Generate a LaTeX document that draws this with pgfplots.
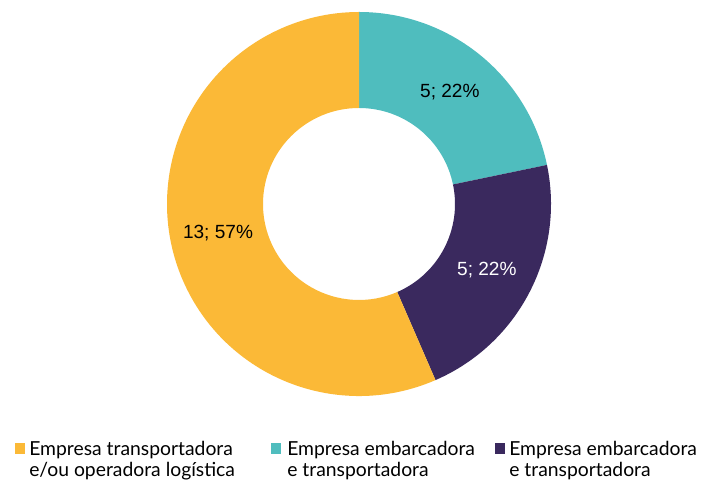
\documentclass[border=0pt]{standalone}
\usepackage{pgfplots}
\usepackage{pgfplotstable}
\pgfplotsset{compat=1.18}
\usepackage{fontspec}
\setmainfont{Lato}
\newfontfamily\arial{Liberation Sans}
\definecolor{tealc}{RGB}{79,189,190}
\definecolor{purplec}{RGB}{58,41,94}
\definecolor{yellowc}{RGB}{251,185,55}
\pgfplotstableread{
name value
teal 5
purple 5
yellow 13
}\piedata
\begin{document}
\begin{tikzpicture}
\pgfplotstablegetelem{0}{value}\of\piedata \edef\va{\pgfplotsretval}
\pgfplotstablegetelem{1}{value}\of\piedata \edef\vb{\pgfplotsretval}
\pgfplotstablegetelem{2}{value}\of\piedata \edef\vc{\pgfplotsretval}
\pgfmathsetmacro\tot{\va+\vb+\vc}
\pgfmathsetmacro\aA{90}
\pgfmathsetmacro\aB{90-360*\va/\tot}
\pgfmathsetmacro\aC{\aB-360*\vb/\tot}
\pgfmathsetmacro\aD{90-360}
\pgfmathsetmacro\mA{(\aA+\aB)/2}
\pgfmathsetmacro\mB{(\aB+\aC)/2}
\pgfmathsetmacro\mC{(\aC+\aD)/2}
\pgfmathtruncatemacro\pA{round(100*\va/\tot)}
\pgfmathtruncatemacro\pB{round(100*\vb/\tot)}
\pgfmathtruncatemacro\pC{round(100*\vc/\tot)}
\begin{axis}[hide axis, scale only axis, width=528pt, height=360.75pt,
  xmin=0, xmax=704, ymin=0, ymax=481, clip=false]
\path (axis cs:0,0) rectangle (axis cs:704,481);
\def\cx{359}\def\cy{277}\def\Ro{192}\def\Ri{96}
\fill[tealc] (axis cs:{\cx+\Ro*cos(\aA)},{\cy+\Ro*sin(\aA)}) arc[start angle=\aA,end angle=\aB,radius=144pt]
  -- (axis cs:{\cx+\Ri*cos(\aB)},{\cy+\Ri*sin(\aB)}) arc[start angle=\aB,end angle=\aA,radius=72pt] -- cycle;
\fill[purplec] (axis cs:{\cx+\Ro*cos(\aB)},{\cy+\Ro*sin(\aB)}) arc[start angle=\aB,end angle=\aC,radius=144pt]
  -- (axis cs:{\cx+\Ri*cos(\aC)},{\cy+\Ri*sin(\aC)}) arc[start angle=\aC,end angle=\aB,radius=72pt] -- cycle;
\fill[yellowc] (axis cs:{\cx+\Ro*cos(\aC)},{\cy+\Ro*sin(\aC)}) arc[start angle=\aC,end angle=\aD,radius=144pt]
  -- (axis cs:{\cx+\Ri*cos(\aD)},{\cy+\Ri*sin(\aD)}) arc[start angle=\aD,end angle=\aC,radius=72pt] -- cycle;
\node[font=\arial\fontsize{14.3}{16}\selectfont, text=black] at (axis cs:{\cx+144*cos(\mA)},{\cy+144*sin(\mA)}) {\va; \pA\%};
\node[font=\arial\fontsize{14.3}{16}\selectfont, text=white] at (axis cs:{\cx+144*cos(\mB)},{\cy+144*sin(\mB)}) {\vb; \pB\%};
\node[font=\arial\fontsize{14.3}{16}\selectfont, text=black] at (axis cs:{\cx+144*cos(\mC)},{\cy+144*sin(\mC)}) {\vc; \pC\%};
% legend
\fill[yellowc] (axis cs:15,27) rectangle (axis cs:25,38);
\fill[tealc] (axis cs:271,27) rectangle (axis cs:281,38);
\fill[purplec] (axis cs:495,27) rectangle (axis cs:505,38);
\begin{scope}[overlay]
\node[anchor=base west, inner sep=0pt, align=left, font=\fontsize{14.5}{15.75}\selectfont] at (axis cs:29,4) {Empresa transportadora\\e/ou operadora logística};
\node[anchor=base west, inner sep=0pt, align=left, font=\fontsize{14.5}{15.75}\selectfont] at (axis cs:287,4) {Empresa embarcadora\\e transportadora};
\node[anchor=base west, inner sep=0pt, align=left, font=\fontsize{14.5}{15.75}\selectfont] at (axis cs:509,4) {Empresa embarcadora\\e transportadora};
\end{scope}
\end{axis}
\end{tikzpicture}
\end{document}
